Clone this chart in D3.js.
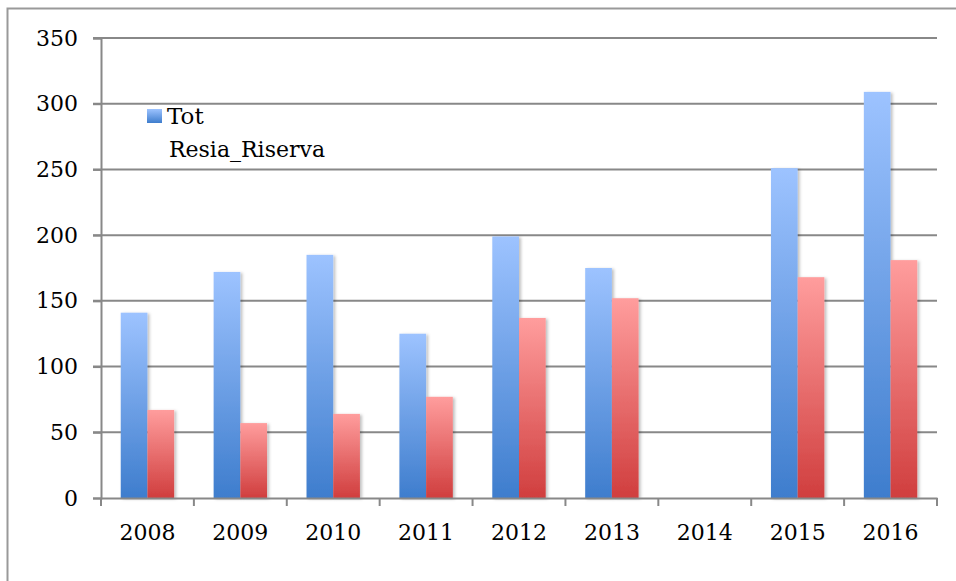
<!DOCTYPE html>
<html>
<head>
<meta charset="utf-8">
<script src="https://cdn.jsdelivr.net/npm/d3@7"></script>
<style>
  body { margin: 0; background: #fff; }
  text { font-family: "DejaVu Serif", serif; }
</style>
</head>
<body>
<div id="chart"></div>
<script>
// data
var years = ["2008", "2009", "2010", "2011", "2012", "2013", "2014", "2015", "2016"];
var tot = [141, 172, 185, 125, 199, 175, null, 251, 309];
var resia = [67, 57, 64, 77, 137, 152, null, 168, 181];
var seriesNames = ["Tot", "Resia_Riserva"];
var yTicks = [0, 50, 100, 150, 200, 250, 300, 350];

var W = 956, H = 581;
var margin = {top: 38, right: 19, bottom: 83, left: 101},
    width = W - margin.left - margin.right,
    height = H - margin.top - margin.bottom;

var svg = d3.select("#chart").append("svg")
    .attr("width", W)
    .attr("height", H);

// outer frame
svg.append("rect")
    .attr("x", 7.5).attr("y", 8.5)
    .attr("width", W + 20).attr("height", H + 20)
    .attr("fill", "none")
    .attr("stroke", "#999")
    .attr("stroke-width", 2);

var defs = svg.append("defs");
function grad(id, top, bottom) {
  var g = defs.append("linearGradient").attr("id", id)
      .attr("x1", 0).attr("y1", 0).attr("x2", 0).attr("y2", 1);
  g.append("stop").attr("offset", "0%").attr("stop-color", top);
  g.append("stop").attr("offset", "100%").attr("stop-color", bottom);
}
grad("gBlue", "#9dc3ff", "#3e7dcd");
grad("gRed", "#ff9d9d", "#d03e3e");

var shadow = defs.append("filter").attr("id", "shadow")
    .attr("x", "-20%").attr("y", "-5%").attr("width", "150%").attr("height", "110%");
shadow.append("feDropShadow")
    .attr("dx", 2).attr("dy", 1).attr("stdDeviation", 1.5)
    .attr("flood-color", "#000").attr("flood-opacity", 0.25);

var g = svg.append("g")
    .attr("transform", "translate(" + margin.left + "," + margin.top + ")");

var x = d3.scaleBand().domain(years).range([0, width]).paddingInner(0).paddingOuter(0);
var x1 = d3.scaleBand().domain(seriesNames).range([x.bandwidth() * 0.2125, x.bandwidth() * 0.7875]);
var y = d3.scaleLinear().domain([0, 350]).range([height, 0]);

// gridlines
g.selectAll(".grid")
    .data(yTicks.slice(1))
    .enter().append("line")
    .attr("x1", -8).attr("x2", width)
    .attr("y1", function(d) { return y(d); })
    .attr("y2", function(d) { return y(d); })
    .attr("stroke", "#888")
    .attr("stroke-width", 2);

// y axis
var yAxis = g.append("g")
    .call(d3.axisLeft(y).tickValues(yTicks).tickSize(8).tickPadding(15));
yAxis.select(".domain").attr("stroke", "#888").attr("stroke-width", 2);
yAxis.selectAll(".tick line").attr("stroke", "#888").attr("stroke-width", 2);
yAxis.selectAll("text").attr("font-size", 22).attr("fill", "#000")
    .attr("font-family", "DejaVu Serif, serif");

// bars
var data = years.map(function(yr, i) {
  return {year: yr, vals: [{k: "Tot", v: tot[i]}, {k: "Resia_Riserva", v: resia[i]}]};
});

var groups = g.selectAll(".yr")
    .data(data)
    .enter().append("g")
    .attr("transform", function(d) { return "translate(" + x(d.year) + ",0)"; });

groups.selectAll("rect")
    .data(function(d) { return d.vals.filter(function(e) { return e.v != null; }); })
    .enter().append("rect")
    .attr("x", function(d) { return x1(d.k); })
    .attr("width", x1.bandwidth())
    .attr("y", function(d) { return y(d.v); })
    .attr("height", function(d) { return height - y(d.v); })
    .attr("fill", function(d) { return d.k === "Tot" ? "url(#gBlue)" : "url(#gRed)"; })
    .attr("filter", "url(#shadow)");

// x axis
var xAxis = g.append("g")
    .attr("transform", "translate(0," + height + ")")
    .call(d3.axisBottom(x).tickSize(0).tickPadding(26));
xAxis.select(".domain").attr("stroke", "#888").attr("stroke-width", 2);
xAxis.selectAll("text").attr("font-size", 22).attr("fill", "#000")
    .attr("font-family", "DejaVu Serif, serif");
// category separators
xAxis.selectAll(".sep")
    .data(years.concat(["end"]))
    .enter().append("line")
    .attr("x1", function(d, i) { return i * x.bandwidth(); })
    .attr("x2", function(d, i) { return i * x.bandwidth(); })
    .attr("y1", 0).attr("y2", 8)
    .attr("stroke", "#888").attr("stroke-width", 2);

// legend (second entry has no swatch in the original)
var legend = svg.append("g").attr("transform", "translate(147,109)");
legend.append("rect")
    .attr("width", 15).attr("height", 14)
    .attr("fill", "url(#gBlue)");
legend.append("text")
    .attr("x", 20).attr("y", 15)
    .attr("font-size", 23)
    .text(seriesNames[0]);
legend.append("text")
    .attr("x", 22).attr("y", 48)
    .attr("font-size", 22)
    .text(seriesNames[1]);
</script>
</body>
</html>
